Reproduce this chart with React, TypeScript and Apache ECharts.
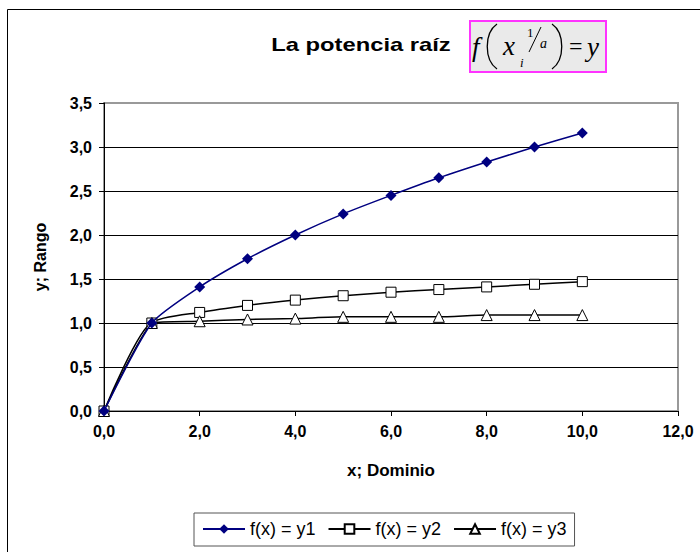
import React, { useEffect, useRef } from "react";
import * as echarts from "echarts";

const xValues = [0, 1, 2, 3, 4, 5, 6, 7, 8, 9, 10];
const y1Values = [0, 1.0, 1.41, 1.73, 2.0, 2.24, 2.45, 2.65, 2.83, 3.0, 3.16];
const y2Values = [0, 1.0, 1.12, 1.2, 1.26, 1.31, 1.35, 1.38, 1.41, 1.44, 1.47];
const y3Values = [0, 1.0, 1.02, 1.04, 1.05, 1.07, 1.07, 1.07, 1.09, 1.09, 1.09];
const seriesNames = ["f(x) = y1", "f(x) = y2", "f(x) = y3"];
const titleText = "La potencia raíz";

const fmt = (v: number) => v.toFixed(1).replace(".", ",");
const pairs = (ys: number[]) => xValues.map((x, i) => [x, ys[i]]);

const SANS = "'Liberation Sans', Arial, sans-serif";
const SERIF = "'Liberation Serif', 'Times New Roman', serif";

export default function App() {
  const ref = useRef<HTMLDivElement>(null);
  useEffect(() => {
    if (!ref.current) return;
    const chart = echarts.init(ref.current, null, { renderer: "svg" });
    const serifText = (x: number, y: number, text: string, size: number, italic = true) => ({
      type: "text",
      x,
      y,
      style: {
        text,
        font: `${italic ? "italic " : ""}${size}px ${SERIF}`,
        fill: "#000",
        textAlign: "left",
        textVerticalAlign: "middle",
      },
    });
    const paren = (xe: number, xc: number) => ({
      type: "bezierCurve",
      shape: { x1: xe, y1: 24, x2: xe, y2: 69, cpx1: xc, cpy1: 33, cpx2: xc, cpy2: 60 },
      style: { stroke: "#000", lineWidth: 1.3, fill: "none" },
    });
    chart.setOption({
      animation: false,
      backgroundColor: "#fff",
      grid: {
        left: 104,
        top: 103,
        right: 22,
        bottom: 141,
        show: true,
        borderColor: "#999",
        borderWidth: 2,
        backgroundColor: "transparent",
      },
      xAxis: {
        type: "value",
        min: 0,
        max: 12,
        interval: 2,
        name: "x; Dominio",
        nameLocation: "middle",
        nameGap: 51,
        nameTextStyle: { fontFamily: SANS, fontWeight: "bold", fontSize: 17, color: "#000" },
        axisLine: { show: true, lineStyle: { color: "#000", width: 1 } },
        axisTick: { show: true, length: 5, lineStyle: { color: "#000" } },
        axisLabel: {
          formatter: (v: number) => fmt(v),
          fontFamily: SANS,
          fontWeight: "bold",
          fontSize: 16,
          color: "#000",
          margin: 12,
        },
        splitLine: { show: false },
      },
      yAxis: {
        type: "value",
        min: 0,
        max: 3.5,
        interval: 0.5,
        name: "y; Rango",
        nameLocation: "middle",
        nameGap: 56,
        nameTextStyle: { fontFamily: SANS, fontWeight: "bold", fontSize: 16, color: "#000" },
        axisLine: { show: true, lineStyle: { color: "#000", width: 1 } },
        axisTick: { show: true, length: 5, lineStyle: { color: "#000" } },
        axisLabel: {
          formatter: (v: number) => fmt(v),
          fontFamily: SANS,
          fontWeight: "bold",
          fontSize: 16,
          color: "#000",
          margin: 12,
        },
        splitLine: { show: true, showMaxLine: false, lineStyle: { color: "#000", width: 1 } },
      },
      legend: {
        left: 194,
        top: 513,
        orient: "horizontal",
        padding: [7, 8, 8, 8],
        borderColor: "#555",
        borderWidth: 1,
        itemWidth: 42,
        itemHeight: 12,
        itemGap: 12,
        textStyle: { fontFamily: SANS, fontSize: 18, color: "#000" },
        data: seriesNames,
      },
      series: [
        {
          name: seriesNames[0],
          type: "line",
          data: pairs(y1Values),
          smooth: 0.2,
          symbol: "diamond",
          symbolSize: 11,
          lineStyle: { color: "#000080", width: 1.5 },
          itemStyle: { color: "#000080" },
          z: 3,
        },
        {
          name: seriesNames[1],
          type: "line",
          data: pairs(y2Values),
          smooth: 0.2,
          symbol: "rect",
          symbolSize: 10,
          lineStyle: { color: "#000", width: 1.5 },
          itemStyle: { color: "#fff", borderColor: "#000", borderWidth: 1 },
          z: 2,
        },
        {
          name: seriesNames[2],
          type: "line",
          data: pairs(y3Values),
          smooth: 0.2,
          symbol: "triangle",
          symbolSize: 11,
          lineStyle: { color: "#000", width: 1.5 },
          itemStyle: { color: "#fff", borderColor: "#000", borderWidth: 1 },
          z: 2,
        },
      ],
      graphic: [
        {
          type: "rect",
          shape: { x: 7.5, y: 9.5, width: 720, height: 600 },
          style: { fill: "none", stroke: "#000", lineWidth: 1 },
          silent: true,
        },
        {
          type: "text",
          x: 361,
          y: 45,
          scaleX: 1.25,
          style: {
            text: titleText,
            font: `bold 19px ${SANS}`,
            fill: "#000",
            textAlign: "center",
            textVerticalAlign: "middle",
          },
        },
        {
          type: "rect",
          shape: { x: 470, y: 21, width: 136, height: 51 },
          style: { fill: "#EAEAEA", stroke: "#FF33FF", lineWidth: 2 },
        },
        serifText(472, 47, "f", 27),
        paren(497, 484),
        serifText(503, 46, "x", 27),
        serifText(520, 62, "i", 13),
        serifText(527, 32, "1", 13, false),
        {
          type: "line",
          shape: { x1: 529, y1: 52, x2: 541, y2: 27 },
          style: { stroke: "#000", lineWidth: 1 },
        },
        serifText(540, 43, "a", 14),
        paren(552, 565),
        serifText(569, 46, "=", 24, false),
        serifText(587, 47, "y", 27),
      ],
    });
    return () => chart.dispose();
  }, []);
  return (
    <div
      ref={ref}
      style={{ position: "fixed", left: 0, top: 0, width: 700, height: 552 }}
    />
  );
}
